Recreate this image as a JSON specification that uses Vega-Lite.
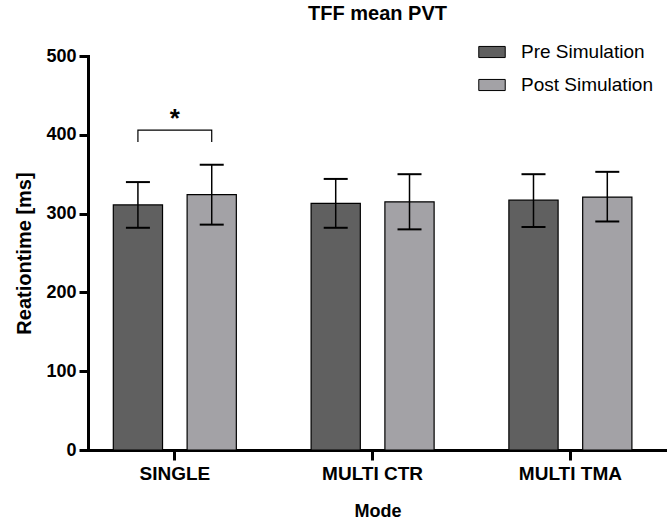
{
  "$schema": "https://vega.github.io/schema/vega-lite/v6.json",
  "width": 579,
  "height": 394,
  "autosize": {"type": "none"},
  "padding": {"left": 88, "top": 56, "right": 0, "bottom": 73},
  "background": "white",
  "config": {
    "view": {"stroke": null},
    "font": "Liberation Sans"
  },
  "title": {
    "text": "TFF mean PVT",
    "fontSize": 20,
    "fontWeight": "bold",
    "font": "Liberation Sans",
    "color": "black",
    "anchor": "middle",
    "offset": 14
  },
  "datasets": {
    "bars": [
      {"Mode": "SINGLE", "Group": "Pre Simulation", "mean": 311, "lo": 282, "hi": 340},
      {"Mode": "SINGLE", "Group": "Post Simulation", "mean": 324, "lo": 286, "hi": 362},
      {"Mode": "MULTI CTR", "Group": "Pre Simulation", "mean": 313, "lo": 282, "hi": 344},
      {"Mode": "MULTI CTR", "Group": "Post Simulation", "mean": 315, "lo": 280, "hi": 350},
      {"Mode": "MULTI TMA", "Group": "Pre Simulation", "mean": 317, "lo": 283, "hi": 350},
      {"Mode": "MULTI TMA", "Group": "Post Simulation", "mean": 321, "lo": 290, "hi": 353}
    ],
    "bracket": [
      {"Mode": "SINGLE", "Group": "Pre Simulation", "y": 391, "k": 1},
      {"Mode": "SINGLE", "Group": "Pre Simulation", "y": 406, "k": 2},
      {"Mode": "SINGLE", "Group": "Post Simulation", "y": 406, "k": 3},
      {"Mode": "SINGLE", "Group": "Post Simulation", "y": 391, "k": 4}
    ],
    "star": [
      {"Mode": "SINGLE", "y": 410, "label": "*"}
    ]
  },
  "layer": [
    {
      "data": {"name": "bars"},
      "mark": {"type": "bar", "stroke": "black", "strokeWidth": 1.2},
      "encoding": {
        "x": {
          "field": "Mode", "type": "nominal",
          "sort": ["SINGLE", "MULTI CTR", "MULTI TMA"],
          "scale": {"paddingInner": 0.378, "paddingOuter": 0.1527, "align": 0.419},
          "axis": {
            "title": "Mode",
            "labelAngle": 0,
            "labelFont": "Liberation Sans",
            "labelFontSize": 19,
            "labelFontWeight": "bold",
            "labelColor": "black",
            "labelPadding": 4,
            "titleFont": "Liberation Sans",
            "titleFontSize": 18,
            "titleFontWeight": "bold",
            "titleColor": "black",
            "titlePadding": 19,
            "domainColor": "black",
            "domainWidth": 3,
            "domainCap": "square",
            "tickColor": "black",
            "tickWidth": 3,
            "tickSize": 10,
            "bandPosition": 0.5,
            "grid": false
          }
        },
        "xOffset": {
          "field": "Group", "type": "nominal",
          "sort": ["Pre Simulation", "Post Simulation"],
          "scale": {"paddingInner": 0.333, "paddingOuter": 0}
        },
        "y": {
          "field": "mean", "type": "quantitative",
          "scale": {"domain": [0, 500], "nice": false},
          "axis": {
            "title": "Reationtime [ms]",
            "values": [0, 100, 200, 300, 400, 500],
            "labelFont": "Liberation Sans",
            "labelFontSize": 18,
            "labelFontWeight": "bold",
            "labelColor": "black",
            "labelPadding": 3,
            "titleFont": "Liberation Sans",
            "titleFontSize": 20,
            "titleFontWeight": "bold",
            "titleColor": "black",
            "titlePadding": 11,
            "domainColor": "black",
            "domainWidth": 3,
            "domainCap": "square",
            "tickColor": "black",
            "tickWidth": 3,
            "tickSize": 9,
            "grid": false
          }
        },
        "color": {
          "field": "Group", "type": "nominal",
          "scale": {"domain": ["Pre Simulation", "Post Simulation"], "range": ["#606060", "#a3a2a6"]},
          "legend": {
            "title": null,
            "orient": "none",
            "legendX": 390,
            "legendY": -18,
            "symbolType": "M-1,-0.42L1,-0.42L1,0.42L-1,0.42Z",
            "symbolSize": 700,
            "symbolStrokeColor": "black",
            "symbolStrokeWidth": 1,
            "symbolOpacity": 1,
            "labelFont": "Liberation Sans",
            "labelFontSize": 19,
            "labelColor": "black",
            "labelOffset": 15,
            "rowPadding": 9,
            "padding": 0
          }
        }
      }
    },
    {
      "data": {"name": "bars"},
      "mark": {"type": "rule", "color": "black", "strokeWidth": 1.5},
      "encoding": {
        "x": {"field": "Mode", "type": "nominal", "sort": ["SINGLE", "MULTI CTR", "MULTI TMA"]},
        "xOffset": {"field": "Group", "type": "nominal", "sort": ["Pre Simulation", "Post Simulation"]},
        "y": {"field": "lo", "type": "quantitative"},
        "y2": {"field": "hi"}
      }
    },
    {
      "data": {"name": "bars"},
      "mark": {"type": "tick", "color": "black", "thickness": 2, "size": 24, "opacity": 1},
      "encoding": {
        "x": {"field": "Mode", "type": "nominal", "sort": ["SINGLE", "MULTI CTR", "MULTI TMA"]},
        "xOffset": {"field": "Group", "type": "nominal", "sort": ["Pre Simulation", "Post Simulation"]},
        "y": {"field": "hi", "type": "quantitative"}
      }
    },
    {
      "data": {"name": "bars"},
      "mark": {"type": "tick", "color": "black", "thickness": 2, "size": 24, "opacity": 1},
      "encoding": {
        "x": {"field": "Mode", "type": "nominal", "sort": ["SINGLE", "MULTI CTR", "MULTI TMA"]},
        "xOffset": {"field": "Group", "type": "nominal", "sort": ["Pre Simulation", "Post Simulation"]},
        "y": {"field": "lo", "type": "quantitative"}
      }
    },
    {
      "data": {"name": "bracket"},
      "mark": {"type": "line", "color": "black", "strokeWidth": 1.2},
      "encoding": {
        "x": {"field": "Mode", "type": "nominal", "sort": ["SINGLE", "MULTI CTR", "MULTI TMA"]},
        "xOffset": {"field": "Group", "type": "nominal", "sort": ["Pre Simulation", "Post Simulation"]},
        "y": {"field": "y", "type": "quantitative"},
        "order": {"field": "k", "type": "quantitative"}
      }
    },
    {
      "data": {"name": "star"},
      "mark": {"type": "text", "fontSize": 26, "fontWeight": "bold", "font": "Liberation Sans", "color": "black", "baseline": "alphabetic", "align": "center"},
      "encoding": {
        "x": {"field": "Mode", "type": "nominal", "sort": ["SINGLE", "MULTI CTR", "MULTI TMA"]},
        "y": {"field": "y", "type": "quantitative"},
        "text": {"field": "label"}
      }
    }
  ]
}
